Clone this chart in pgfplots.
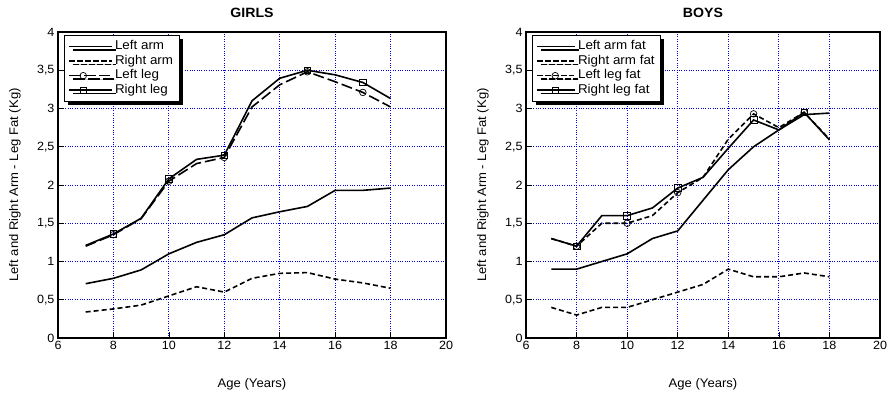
\documentclass[border=0pt]{standalone}
\usepackage{fontspec}
\setmainfont{Liberation Sans}[FakeStretch=1.05]
\usepackage{pgfplots}
\pgfplotsset{compat=1.18}
\usetikzlibrary{shadows}

\pgfplotsset{
  myaxis/.style={
    scale only axis, height=306bp,
    xmin=6, xmax=20, ymin=0, ymax=4,
    xtick={6,8,10,12,14,16,18,20},
    ytick={0,0.5,1,1.5,2,2.5,3,3.5,4},
    grid=major,
    major grid style={draw=blue!85!black, dotted, line width=0.8bp},
    axis line style={line width=1.1bp},
    tick style={black, line width=0.7bp},
    major tick length=6bp,
    tick align=inside,
    xtick pos=bottom, ytick pos=left,
    /pgf/number format/use comma,
    /pgf/number format/assume math mode=true,
    tick label style={font=\fontsize{12}{14}\selectfont},
    xlabel={Age (Years)},
    ylabel={Left and Right Arm - Leg Fat (Kg)},
    label style={font=\fontsize{12.5}{14}\selectfont},
    xlabel style={at={(axis description cs:0.5,0)}, anchor=center, yshift=-46bp},
    ylabel style={at={(axis description cs:0,0.5)}, anchor=center, yshift=43bp},
    title style={at={(axis description cs:0.5,1)}, anchor=center, yshift=13bp, font=\bfseries\fontsize{13.5}{15}\selectfont},
    legend cell align=left,
    legend style={at={(0,1)}, anchor=north west, xshift=6bp, yshift=-3bp,
      draw=black, line width=0.9bp, fill=white,
      drop shadow={shadow xshift=3.5bp, shadow yshift=-3.5bp, fill=black, opacity=1},
      font=\fontsize{12.8}{14}\selectfont, inner sep=4bp,
      nodes={inner xsep=2bp, inner ysep=1bp, text height=9.5bp, text depth=3bp}},
  },
  armsolid/.style={black, line width=1.6bp},
  armdash/.style={black, line width=1.6bp, dash pattern=on 5bp off 3bp},
  legcirc/.style={black, line width=1.6bp, mark=o, mark indices={2,4,6,9,11}, mark size=3.3bp, mark options={solid, fill=white, line width=0.7bp}},
  legsq/.style={black, line width=1.6bp, mark=square, mark indices={2,4,6,9,11}, mark size=3.3bp, mark options={solid, fill=white, line width=0.7bp}},
}

\pgfplotstableread{
age la   ra    ll    rl
7   0.71 0.34  1.20  1.21
8   0.78 0.38  1.35  1.36
9   0.89 0.43  1.56  1.565
10  1.10 0.55  2.05  2.08
11  1.25 0.67  2.28  2.335
12  1.35 0.60  2.36  2.39
13  1.57 0.78  3.02  3.10
14  1.65 0.845 3.31  3.395
15  1.72 0.855 3.48  3.50
16  1.93 0.77  3.35  3.44
17  1.93 0.72  3.21  3.34
18  1.96 0.65  3.02  3.13
}\girls

\pgfplotstableread{
age la   ra    ll    rl
7   0.90 0.40  1.30  1.30
8   0.90 0.30  1.20  1.20
9   1.00 0.40  1.50  1.60
10  1.10 0.40  1.50  1.60
11  1.30 0.50  1.60  1.70
12  1.40 0.60  1.90  1.96
13  1.80 0.70  2.10  2.10
14  2.20 0.90  2.60  2.48
15  2.50 0.80  2.93  2.85
16  2.72 0.80  2.75  2.72
17  2.92 0.85  2.95  2.95
18  2.94 0.80  2.60  2.59
}\boys

\begin{document}
\begin{tikzpicture}
\path[use as bounding box] (-58bp,-57bp) rectangle (832bp,338bp);

\begin{axis}[myaxis, at={(0,0)}, anchor=south west, width=388bp, title={GIRLS},
  legend image code/.code={\draw[#1] plot coordinates {(0bp,0bp) (13bp,0bp) (38bp,0bp)}; \path (-1bp,0bp) -- (42bp,0bp);}]
\addplot[armsolid] table[x=age,y=la] {\girls};
\addlegendentry{Left arm}
\addplot[armdash] table[x=age,y=ra] {\girls};
\addlegendentry{Right arm}
\addplot[legcirc, dash pattern=on 11bp off 4bp] table[x=age,y=ll] {\girls};
\addlegendentry{Left leg}
\addplot[legsq] table[x=age,y=rl] {\girls};
\addlegendentry{Right leg}
\end{axis}

\begin{axis}[myaxis, at={(468bp,0)}, anchor=south west, width=354bp, title={BOYS},
  legend image code/.code={\draw[#1] plot coordinates {(0bp,0bp) (17bp,0bp) (33bp,0bp)}; \path (-1bp,0bp) -- (37bp,0bp);}]
\addplot[armsolid] table[x=age,y=la] {\boys};
\addlegendentry{Left arm fat}
\addplot[armdash] table[x=age,y=ra] {\boys};
\addlegendentry{Right arm fat}
\addplot[legcirc, dash pattern=on 5bp off 3bp] table[x=age,y=ll] {\boys};
\addlegendentry{Left leg fat}
\addplot[legsq] table[x=age,y=rl] {\boys};
\addlegendentry{Right leg fat}
\end{axis}
\end{tikzpicture}
\end{document}
